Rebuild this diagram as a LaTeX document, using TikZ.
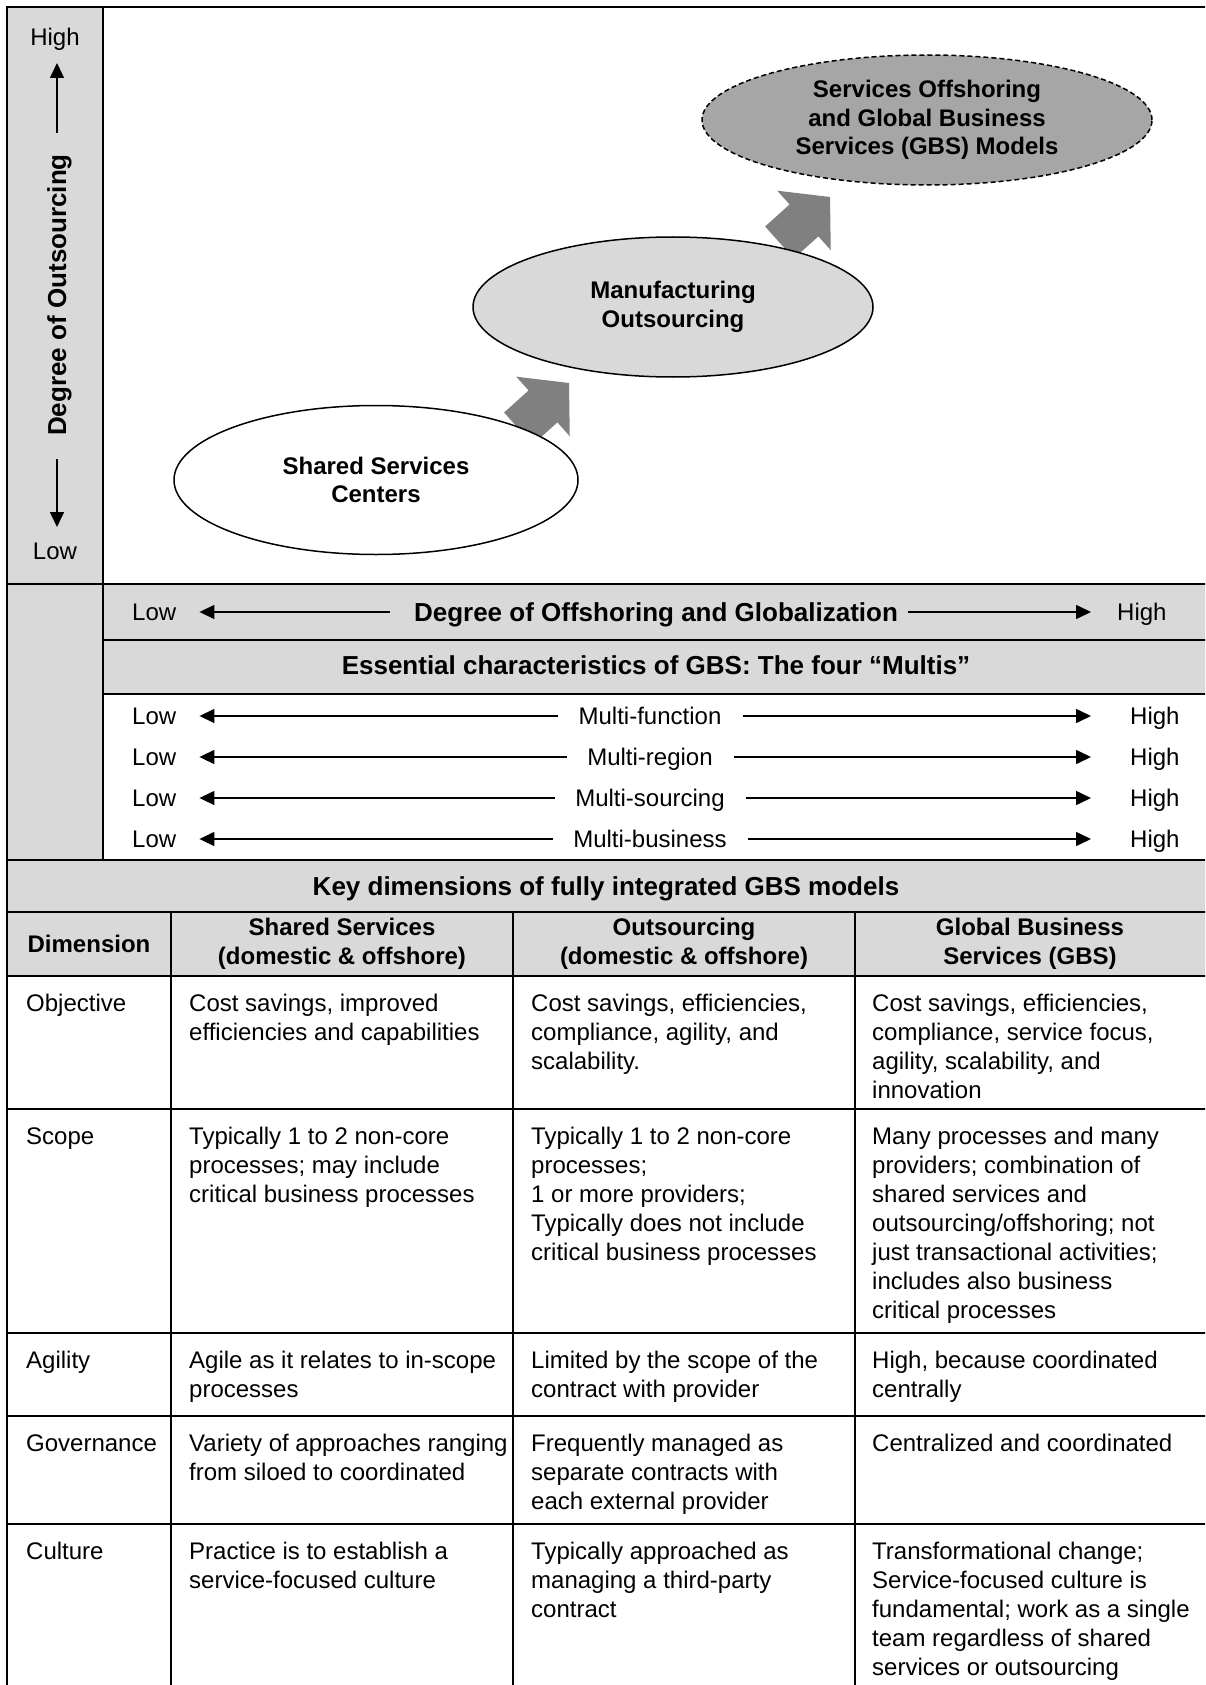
\documentclass[tikz,border=0pt]{standalone}
\usepackage{fontspec}
\setmainfont{Liberation Sans}
\usetikzlibrary{arrows.meta,shapes.geometric}
\definecolor{lgray}{HTML}{D9D9D9}
\definecolor{mgray}{HTML}{A6A6A6}
\definecolor{dgray}{HTML}{808080}
\newcommand{\fl}{\rule{0pt}{18pt}}
\begin{document}
\begin{tikzpicture}[x=1pt,y=-1pt,
  grid/.style={line width=2pt, line cap=rect},
  axarrow/.style={line width=1.5pt,-{Triangle[length=15pt,width=14pt]}},
  body/.style={font=\fontsize{24}{29}\selectfont, inner sep=0pt},
  lbl/.style={body, text height=17.2pt, text depth=0pt},
  cell/.style={body, anchor=north west, align=left},
  hdr/.style={font=\fontsize{24}{29}\selectfont\bfseries, inner sep=0pt, align=center},
  ttl/.style={font=\fontsize{26}{31}\selectfont\bfseries, inner sep=0pt, text height=18.6pt, text depth=0pt},
  ell/.style={ellipse, draw, line width=1.5pt, font=\fontsize{24}{28.5}\selectfont\bfseries, align=center, inner sep=0pt},
  blk/.style={fill=dgray, draw=none}
]
\useasboundingbox (0,0) rectangle (1205,1685);
\clip (0,0) rectangle (1205,1685);

% ---------- fills
\fill[lgray] (7,7) rectangle (103,860);
\fill[lgray] (103,584) rectangle (1206,694);
\fill[lgray] (7,860) rectangle (1206,976);

% ---------- block arrows
\fill[blk, shift={(569,383)}, rotate=42] (0,0) -- (-35,40) -- (-35,21.5) -- (-68,21.5) -- (-68,-21.5) -- (-35,-21.5) -- (-35,-40) -- cycle;
\fill[blk, shift={(830,197)}, rotate=42] (0,0) -- (-35,40) -- (-35,21.5) -- (-68,21.5) -- (-68,-21.5) -- (-35,-21.5) -- (-35,-40) -- cycle;

% ---------- ellipses
\node[ell, fill=white, minimum width=404pt, minimum height=149pt] (ssc) at (376,480) {Shared Services\\Centers};
\node[ell, fill=lgray, minimum width=400pt, minimum height=140pt] (mfo) at (673,307) {Manufacturing\\Outsourcing};
\node[ell, fill=mgray, dash pattern=on 5pt off 3pt, minimum width=450pt, minimum height=130pt] (gbs) at (927,120) {Services Offshoring\\and Global Business\\Services (GBS) Models};

% ---------- grid
\draw[grid] (7,1690) -- (7,7) -- (1210,7);
\foreach \yy in {584,860,912,976,1109,1333,1416,1524} \draw[grid] (7,\yy) -- (1210,\yy);
\foreach \yy in {640,694} \draw[grid] (103,\yy) -- (1210,\yy);
\draw[grid] (103,7) -- (103,860);
\foreach \xx in {171,513,855} \draw[grid] (\xx,912) -- (\xx,1690);

% ---------- vertical axis
\node[lbl] (yHigh) at (55,37) {High};
\node[lbl] (yLow) at (55,551) {Low};
\node[font=\fontsize{26}{31}\selectfont\bfseries, inner sep=0pt, rotate=90, anchor=base] (yT) at (66,295) {Degree of Outsourcing};
\coordinate (yA) at (57,133);
\coordinate (yB) at (57,63);
\coordinate (yC) at (57,459);
\coordinate (yD) at (57,527);
\draw[axarrow] (yA) -- (yB);
\draw[axarrow] (yC) -- (yD);

% ---------- offshoring row
\node[lbl, anchor=west] (offLow) at (132,612) {Low};
\node[ttl] (offT) at (656,612) {Degree of Offshoring and Globalization};
\node[lbl, anchor=west] (offHigh) at (1117,612) {High};
\draw[axarrow] ([xshift=-24pt]offT.west) -- ([xshift=23pt]offLow.east);
\draw[axarrow] ([xshift=10pt]offT.east) -- ([xshift=-26pt]offHigh.west);

% ---------- essential header
\node[ttl] (essT) at (656,665) {Essential characteristics of GBS: The four “Multis”};

% ---------- multis
\foreach \yy/\nm/\txt in {716/m1/Multi-function,757/m2/Multi-region,798/m3/Multi-sourcing,839/m4/Multi-business}{
  \node[lbl, anchor=west] (\nm lo) at (132,\yy) {Low};
  \node[lbl] (\nm) at (650,\yy) {\txt};
  \node[lbl, anchor=west] (\nm hi) at (1130,\yy) {High};
  \draw[axarrow] ([xshift=-20pt]\nm.west) -- ([xshift=23pt]\nm lo.east);
  \draw[axarrow] ([xshift=21pt]\nm.east) -- ([xshift=-39pt]\nm hi.west);
}

% ---------- key dimensions header
\node[ttl] (keyT) at (606,886) {Key dimensions of fully integrated GBS models};
\node[hdr, text height=17.2pt, text depth=0pt] (hDim) at (89,944) {Dimension};
\node[hdr] (hSS) at (342,944) {Shared Services\\(domestic \& offshore)};
\node[hdr] (hOS) at (684,944) {Outsourcing\\(domestic \& offshore)};
\node[hdr] (hGBS) at (1030,944) {Global Business\\Services (GBS)};

% ---------- Objective
\node[cell] (c11) at (26,993) {\fl Objective};
\node[cell] (c12) at (189,993) {\fl Cost savings, improved\\efficiencies and capabilities};
\node[cell] (c13) at (531,993) {\fl Cost savings, efficiencies,\\compliance, agility, and\\scalability.};
\node[cell] (c14) at (872,993) {\fl Cost savings, efficiencies,\\compliance, service focus,\\agility, scalability, and\\innovation};

% ---------- Scope
\node[cell] (c21) at (26,1126) {\fl Scope};
\node[cell] (c22) at (189,1126) {\fl Typically 1 to 2 non-core\\processes; may include\\critical business processes};
\node[cell] (c23) at (531,1126) {\fl Typically 1 to 2 non-core\\processes;\\1 or more providers;\\Typically does not include\\critical business processes};
\node[cell] (c24) at (872,1126) {\fl Many processes and many\\providers; combination of\\shared services and\\outsourcing/offshoring; not\\just transactional activities;\\includes also business\\critical processes};

% ---------- Agility
\node[cell] (c31) at (26,1350) {\fl Agility};
\node[cell] (c32) at (189,1350) {\fl Agile as it relates to in-scope\\processes};
\node[cell] (c33) at (531,1350) {\fl Limited by the scope of the\\contract with provider};
\node[cell] (c34) at (872,1350) {\fl High, because coordinated\\centrally};

% ---------- Governance
\node[cell] (c41) at (26,1433) {\fl Governance};
\node[cell] (c42) at (189,1433) {\fl Variety of approaches ranging\\from siloed to coordinated};
\node[cell] (c43) at (531,1433) {\fl Frequently managed as\\separate contracts with\\each external provider};
\node[cell] (c44) at (872,1433) {\fl Centralized and coordinated};

% ---------- Culture
\node[cell] (c51) at (26,1541) {\fl Culture};
\node[cell] (c52) at (189,1541) {\fl Practice is to establish a\\service-focused culture};
\node[cell] (c53) at (531,1541) {\fl Typically approached as\\managing a third-party\\contract};
\node[cell] (c54) at (872,1541) {\fl Transformational change;\\Service-focused culture is\\fundamental; work as a single\\team regardless of shared\\services or outsourcing};
\end{tikzpicture}
\end{document}
